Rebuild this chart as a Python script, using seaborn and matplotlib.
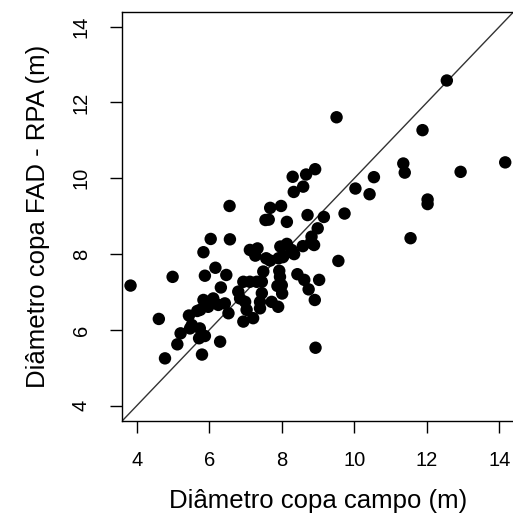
import matplotlib
matplotlib.use("Agg")
import matplotlib.pyplot as plt
import seaborn as sns
import pandas as pd

# Diâmetro copa campo (m)
campo = [12.55, 9.51, 11.88, 11.35, 11.39, 14.16, 12.93, 10.54, 10.03, 10.42, 12.02, 12.02,
         11.55, 9.73, 9.56, 8.93,
         8.92, 8.67, 8.30, 8.59, 8.33, 6.56, 7.68, 7.98, 7.55, 7.64, 8.14, 8.71, 9.16, 8.99,
         6.04, 6.57, 5.84, 8.82, 8.89, 8.80, 8.58,
         7.12, 7.33, 7.27, 7.96, 8.14, 8.27, 8.34, 8.03, 8.31, 7.57, 7.68, 7.91, 8.04, 6.17,
         5.88, 6.47, 4.99, 3.83, 7.49, 7.93, 7.95, 8.00, 8.43, 8.62, 9.03, 8.74, 8.91, 7.88,
         8.01, 6.32, 6.94, 7.12, 7.31, 7.45, 6.80, 6.85, 6.99, 7.03, 6.94, 7.21, 7.45, 7.40,
         7.40, 7.72, 7.90,
         5.84, 6.11, 5.97, 6.25, 6.43, 6.53, 5.75, 5.67, 5.44, 5.52, 5.47, 5.21, 5.74, 5.88,
         5.72, 6.30, 5.12, 4.61, 4.78, 5.80]
# Diâmetro copa FAD - RPA (m)
fad = [12.58, 11.61, 11.27, 10.39, 10.15, 10.42, 10.17, 10.03, 9.73, 9.58, 9.44, 9.32,
       8.42, 9.07, 7.82, 5.53,
       10.24, 10.10, 10.04, 9.78, 9.64, 9.27, 9.22, 9.27, 8.90, 8.91, 8.85, 9.03, 8.98, 8.68,
       8.40, 8.39, 8.05, 8.46, 8.24, 8.30, 8.21,
       8.11, 8.15, 7.96, 8.20, 8.27, 8.11, 8.00, 7.92, 8.03, 7.89, 7.83, 7.89, 7.95, 7.64,
       7.43, 7.45, 7.40, 7.17, 7.54, 7.56, 7.40, 7.18, 7.47, 7.32, 7.32, 7.07, 6.79, 7.16,
       6.96, 7.12, 7.27, 7.27, 7.27, 7.27, 7.01, 6.83, 6.74, 6.53, 6.22, 6.31, 6.97, 6.74,
       6.57, 6.74, 6.61,
       6.79, 6.83, 6.61, 6.66, 6.70, 6.44, 6.53, 6.50, 6.38, 6.13, 6.04, 5.91, 6.04, 5.84,
       5.78, 5.69, 5.62, 6.29, 5.25, 5.35]

tick_vals = [4, 6, 8, 10, 12, 14]
xlabel = "Diâmetro copa campo (m)"
ylabel = "Diâmetro copa FAD - RPA (m)"

df = pd.DataFrame({"campo": campo, "fad": fad})

sns.set_style("white")
plt.rcParams["font.family"] = ["Liberation Sans", "DejaVu Sans"]
plt.rcParams["text.color"] = "black"
plt.rcParams["axes.labelcolor"] = "black"
plt.rcParams["xtick.color"] = "black"
plt.rcParams["ytick.color"] = "black"

fig = plt.figure(figsize=(5.13, 5.16), dpi=100)
ax = fig.add_axes([0.2382, 0.1843, 0.7636, 0.7934])

sns.scatterplot(data=df, x="campo", y="fad", ax=ax, color="black", s=80,
                edgecolor="none", linewidth=0, zorder=3)
ax.axline((4, 4), slope=1, color="#333333", linewidth=1.0, zorder=2)

ax.set_xlim(3.6, 14.4)
ax.set_ylim(3.6, 14.4)
ax.set_xticks(tick_vals)
ax.set_yticks(tick_vals)
ax.set_xticklabels([str(v) for v in tick_vals], fontsize=14.5, color="black")
ax.set_yticklabels([str(v) for v in tick_vals], fontsize=14.5, rotation=90, va="center",
                   color="black")
ax.tick_params(axis="both", direction="out", length=8.5, width=1.0, color="black",
               bottom=True, left=True)
ax.tick_params(axis="x", pad=13)
ax.tick_params(axis="y", pad=14)
for side in ["left", "bottom", "top", "right"]:
    ax.spines[side].set_color("black")
    ax.spines[side].set_linewidth(1.0)

ax.set_xlabel(xlabel, fontsize=18.5, labelpad=14, color="black")
ax.set_ylabel(ylabel, fontsize=18.5, labelpad=16, color="black")

fig.savefig("out.png", dpi=100, facecolor="white")
